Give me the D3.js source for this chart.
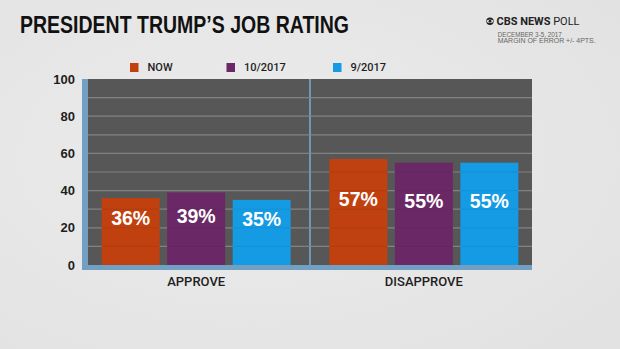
<!DOCTYPE html>
<html>
<head>
<meta charset="utf-8">
<script src="https://cdn.jsdelivr.net/npm/d3@7"></script>
<style>
  html, body { margin: 0; padding: 0; background: #e8e8e8; }
  svg { display: block; }
</style>
</head>
<body>
<svg id="chart" width="620" height="349"></svg>
<script>
// categories and series
var categories = ['APPROVE', 'DISAPPROVE']
var series = ['NOW', '10/2017', '9/2017']
var colors = ['#c0410f', '#6a2966', '#149be3']
// values per series, same order as categories
var valuesNow = [36, 57]
var values1017 = [39, 55]
var values917 = [35, 55]
var yTicks = [0, 20, 40, 60, 80, 100]
var gridTicks = [10, 20, 30, 40, 50, 60, 70, 80, 90]

var seriesValues = [valuesNow, values1017, values917]
var rows = []
categories.forEach(function(c, ci) {
  series.forEach(function(s, si) {
    rows.push({ cat: c, series: s, value: seriesValues[si][ci], color: colors[si] })
  })
})

var svg = d3.select('#chart')
var font = "'Liberation Sans', Arial, sans-serif"

// background
var defs = svg.append('defs')
var grad = defs.append('radialGradient').attr('id', 'bg').attr('cx', '40%').attr('cy', '45%').attr('r', '75%')
grad.append('stop').attr('offset', '0%').attr('stop-color', '#ececec')
grad.append('stop').attr('offset', '100%').attr('stop-color', '#e2e2e2')
svg.append('rect').attr('width', 620).attr('height', 349).attr('fill', 'url(#bg)')

// plot box (window.top is reserved, hence the prefix)
var plotL = 88, plotR = 532, plotT = 79, plotB = 265

var x0 = d3.scaleBand().domain(categories).range([plotL, plotR]).paddingInner(0.17).paddingOuter(0.06)
var x1 = d3.scaleBand().domain(series).range([0, x0.bandwidth()]).paddingInner(0.115)
var y = d3.scaleLinear().domain([0, 100]).range([plotB, plotT])

// plot panel
svg.append('rect').attr('x', plotL).attr('y', plotT).attr('width', plotR - plotL).attr('height', plotB - plotT).attr('fill', '#575757')

svg.append('g').selectAll('line').data(gridTicks).enter().append('line')
  .attr('x1', plotL).attr('x2', plotR)
  .attr('y1', function(d) { return y(d) }).attr('y2', function(d) { return y(d) })
  .attr('stroke', '#8a8a8a').attr('stroke-width', 1.2)

// divider between groups
var mid = (x0(categories[0]) + x0.bandwidth() + x0(categories[1])) / 2
svg.append('rect').attr('x', mid - 1).attr('y', plotT).attr('width', 2).attr('height', plotB - plotT).attr('fill', '#6f98b8')

// bars
var bars = svg.append('g').selectAll('g').data(rows).enter().append('g')
bars.append('rect')
  .attr('x', function(d) { return x0(d.cat) + x1(d.series) })
  .attr('width', x1.bandwidth())
  .attr('y', function(d) { return y(d.value) })
  .attr('height', function(d) { return y(0) - y(d.value) })
  .attr('fill', function(d) { return d.color })

// faint grid showing through the bars
svg.append('g').selectAll('line').data(gridTicks).enter().append('line')
  .attr('x1', plotL).attr('x2', plotR)
  .attr('y1', function(d) { return y(d) }).attr('y2', function(d) { return y(d) })
  .attr('stroke', '#000').attr('stroke-opacity', 0.07).attr('stroke-width', 1)

bars.append('text')
  .attr('x', function(d) { return x0(d.cat) + x1(d.series) + x1.bandwidth() / 2 })
  .attr('y', function(d) { return y(d.value / 2 + 7) })
  .attr('dy', '0.35em')
  .attr('text-anchor', 'middle')
  .attr('font-family', font).attr('font-weight', 'bold').attr('font-size', 19.5)
  .attr('fill', '#fff')
  .text(function(d) { return d.value + '%' })

// axis frame
svg.append('rect').attr('x', plotL - 6).attr('y', plotT).attr('width', 6).attr('height', plotB - plotT + 5).attr('fill', '#72a0c2')
svg.append('rect').attr('x', plotL - 6).attr('y', plotB).attr('width', plotR - plotL + 6).attr('height', 5).attr('fill', '#72a0c2')

// y tick labels
var yAxis = d3.axisLeft(y).tickValues(yTicks).tickSize(0).tickPadding(12)
var ya = svg.append('g').attr('transform', 'translate(' + (plotL - 1) + ',0)').call(yAxis)
ya.select('.domain').remove()
ya.selectAll('text').attr('font-family', font).attr('font-weight', 'bold').attr('font-size', 13).attr('fill', '#1e1e1e')

// category labels
var xAxis = d3.axisBottom(x0).tickSize(0).tickPadding(7)
var xa = svg.append('g').attr('transform', 'translate(0,' + (plotB + 5) + ')').call(xAxis)
xa.select('.domain').remove()
xa.selectAll('text').attr('font-family', "Roboto, 'Liberation Sans', sans-serif").attr('font-weight', 500).attr('font-size', 13).attr('fill', '#1e1e1e')

// legend
var legendX = [130, 226.5, 333]
var legend = svg.append('g').selectAll('g').data(series).enter().append('g')
  .attr('transform', function(d, i) { return 'translate(' + legendX[i] + ',63)' })
legend.append('rect').attr('width', 8.5).attr('height', 9).attr('fill', function(d, i) { return colors[i] })
legend.append('text').attr('x', 17.5).attr('y', 8.3)
  .attr('font-family', "Roboto, 'Liberation Sans', sans-serif").attr('font-weight', 500).attr('font-size', 11)
  .attr('fill', '#1e1e1e').text(function(d) { return d })

// title
svg.append('text').attr('x', 20).attr('y', 32.7)
  .attr('font-family', font).attr('font-weight', 'bold').attr('font-size', 24.5)
  .attr('textLength', 329).attr('lengthAdjust', 'spacingAndGlyphs')
  .attr('fill', '#111').text('PRESIDENT TRUMP\u2019S JOB RATING')

// source block
var eye = svg.append('g').attr('transform', 'translate(490,21.2)')
eye.append('circle').attr('r', 3.7).attr('fill', '#222')
eye.append('ellipse').attr('rx', 3.2).attr('ry', 1.7).attr('fill', '#e8e8e8')
eye.append('circle').attr('r', 1.4).attr('fill', '#222')

var src = svg.append('text').attr('x', 496.5).attr('y', 25)
  .attr('font-family', "Roboto, 'Liberation Sans', sans-serif").attr('font-size', 10.8).attr('fill', '#222')
  .attr('textLength', 83).attr('lengthAdjust', 'spacingAndGlyphs')
src.append('tspan').attr('font-weight', 'bold').text('CBS NEWS')
src.append('tspan').text(' POLL')

svg.append('text').attr('x', 497.7).attr('y', 36.7)
  .attr('font-family', font).attr('font-size', 6.3).attr('fill', '#666')
  .text('DECEMBER 3-5, 2017')
svg.append('text').attr('x', 497.7).attr('y', 42.7)
  .attr('font-family', font).attr('font-size', 6.3).attr('fill', '#666')
  .attr('textLength', 98).attr('lengthAdjust', 'spacingAndGlyphs')
  .text('MARGIN OF ERROR +/- 4PTS.')
</script>
</body>
</html>
